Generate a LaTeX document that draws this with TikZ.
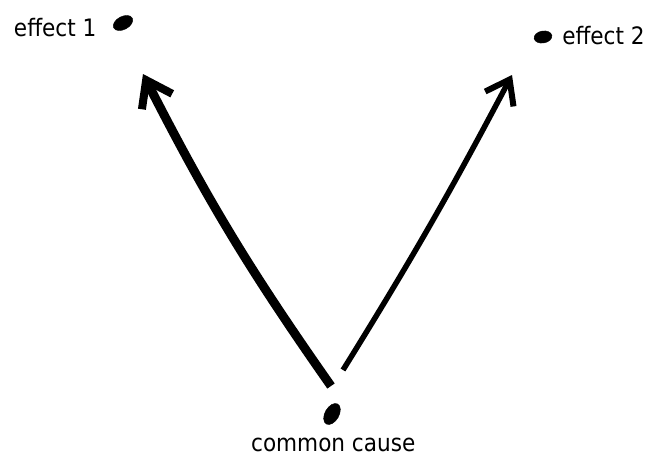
\documentclass[tikz,border=0pt]{standalone}
\usepackage{fontspec}
\setmainfont{DejaVu Sans Condensed}
\usetikzlibrary{arrows.meta,positioning,shapes.geometric}

\begin{document}
\begin{tikzpicture}[x=1pt,y=-1pt,node distance=8pt,
  dot/.style={draw,fill,ellipse,inner sep=0pt},
  lbl/.style={font=\fontsize{24}{28}\selectfont,inner sep=0pt}]
\useasboundingbox (0,0) rectangle (658,461);
\node[dot,minimum width=21pt,minimum height=13pt,rotate=28] (e1) at (123,23) {};
\node[dot,minimum width=18pt,minimum height=12pt,rotate=10] (e2) at (543,37) {};
\node[dot,minimum width=23pt,minimum height=14pt,rotate=60] (cc) at (332,414) {};
\node[lbl,left=17pt of e1] (e1txt) {effect 1};
\node[lbl,right=10pt of e2] (e2txt) {effect 2};
\node[lbl,below=20pt of cc,xshift=-5pt] (cctxt) {common cause};
\coordinate (s1) at (331,386);
\coordinate (t1) at (143,74);
\coordinate (s2) at (343,370);
\coordinate (t2) at (512,75);
\draw[line width=9pt,-{Straight Barb[length=24pt,width=34pt,line width=8pt]}]
  (s1) to[bend left=4] (t1);
\draw[line width=5.5pt,-{Straight Barb[length=22pt,width=32pt,line width=6pt]}]
  (s2) to[bend right=2] (t2);
\end{tikzpicture}
\end{document}
